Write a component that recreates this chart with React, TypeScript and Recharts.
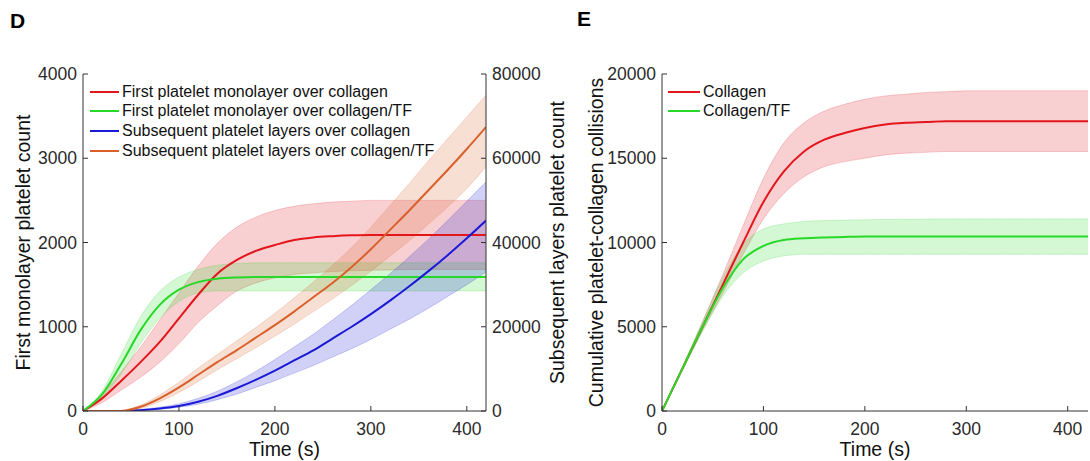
import { ComposedChart, Line, Area, XAxis, YAxis, Legend, Label } from 'recharts';

const FONT = '"Liberation Sans", Arial, sans-serif';

const time = [0, 20, 40, 60, 80, 100, 120, 140, 160, 180, 200, 220, 240, 260, 280, 300, 320, 340, 360, 380, 400, 420];
const xTicks = [0, 100, 200, 300, 400];

// panel D, left axis
const monoCollagen = [0, 150, 360, 580, 820, 1100, 1380, 1630, 1790, 1900, 1970, 2030, 2060, 2075, 2085, 2090, 2090, 2090, 2090, 2090, 2090, 2090];
const monoCollagenLow = [0, 100, 250, 400, 580, 800, 1050, 1250, 1420, 1520, 1580, 1620, 1640, 1655, 1665, 1670, 1675, 1680, 1680, 1680, 1680, 1680];
const monoCollagenHigh = [0, 200, 470, 760, 1080, 1400, 1720, 1990, 2180, 2300, 2380, 2430, 2460, 2480, 2490, 2500, 2500, 2500, 2500, 2500, 2500, 2500];
const monoTF = [0, 200, 560, 960, 1260, 1440, 1530, 1570, 1585, 1590, 1590, 1590, 1590, 1590, 1590, 1590, 1590, 1590, 1590, 1590, 1590, 1590];
const monoTFLow = [0, 160, 440, 800, 1100, 1300, 1400, 1425, 1425, 1425, 1425, 1425, 1425, 1425, 1425, 1425, 1425, 1425, 1425, 1425, 1425, 1425];
const monoTFHigh = [0, 240, 680, 1120, 1420, 1590, 1680, 1730, 1750, 1760, 1760, 1760, 1760, 1760, 1760, 1760, 1760, 1760, 1760, 1760, 1760, 1760];

// panel D, right axis
const subCollagen = [0, 0, 0, 200, 600, 1200, 2200, 3600, 5400, 7400, 9600, 12000, 14400, 17200, 20000, 23000, 26200, 29600, 33200, 37000, 41000, 45200];
const subCollagenLow = [0, 0, 0, 100, 400, 900, 1600, 2700, 4000, 5600, 7200, 9000, 10800, 12800, 14800, 17000, 19400, 21800, 24400, 27200, 30000, 33000];
const subCollagenHigh = [0, 0, 100, 400, 900, 1700, 3000, 4700, 6900, 9400, 12200, 15200, 18200, 21600, 25100, 28800, 32600, 36600, 40800, 45200, 49800, 54400];
const subTF = [0, 0, 0, 1000, 3000, 5600, 8600, 11600, 14400, 17400, 20400, 23600, 27000, 30400, 34200, 38400, 43000, 47600, 52400, 57200, 62200, 67400];
const subTFLow = [0, 0, 0, 600, 2200, 4400, 7000, 9800, 12400, 15000, 17800, 20600, 23600, 26600, 29800, 33200, 36800, 40400, 44400, 48400, 52800, 58000];
const subTFHigh = [0, 0, 200, 1400, 3800, 6800, 10200, 13400, 16600, 19800, 23200, 26800, 30600, 34600, 38800, 43600, 48800, 54000, 59400, 64600, 69800, 75000];

// panel E
const collCollagen = [0, 2500, 5000, 7500, 10000, 12400, 14200, 15400, 16100, 16500, 16800, 17000, 17100, 17150, 17200, 17200, 17200, 17200, 17200, 17200, 17200, 17200];
const collCollagenLow = [0, 2400, 4800, 7000, 9300, 11400, 12900, 13900, 14500, 14800, 15000, 15200, 15300, 15350, 15400, 15400, 15400, 15400, 15400, 15400, 15400, 15400];
const collCollagenHigh = [0, 2600, 5300, 8100, 11000, 13800, 15900, 17100, 17800, 18200, 18500, 18700, 18800, 18900, 18950, 19000, 19000, 19000, 19000, 19000, 19000, 19000];
const collTF = [0, 2500, 5000, 7300, 9000, 9800, 10150, 10250, 10300, 10330, 10350, 10350, 10350, 10350, 10350, 10350, 10350, 10350, 10350, 10350, 10350, 10350];
const collTFLow = [0, 2400, 4700, 6800, 8200, 8900, 9200, 9300, 9300, 9300, 9300, 9300, 9300, 9300, 9300, 9300, 9300, 9300, 9300, 9300, 9300, 9300];
const collTFHigh = [0, 2600, 5300, 7900, 9900, 10800, 11100, 11250, 11300, 11330, 11350, 11370, 11380, 11390, 11400, 11400, 11400, 11400, 11400, 11400, 11400, 11400];

const RED = '#e3161c';
const GREEN = '#28d828';
const BLUE = '#1a1ad6';
const ORANGE = '#d9602a';

const dataD = time.map((t, i) => ({
  t,
  monoCollagen: monoCollagen[i],
  monoCollagenBand: [monoCollagenLow[i], monoCollagenHigh[i]],
  monoTF: monoTF[i],
  monoTFBand: [monoTFLow[i], monoTFHigh[i]],
  subCollagen: subCollagen[i],
  subCollagenBand: [subCollagenLow[i], subCollagenHigh[i]],
  subTF: subTF[i],
  subTFBand: [subTFLow[i], subTFHigh[i]],
}));

const dataE = time.map((t, i) => ({
  t,
  collagen: collCollagen[i],
  collagenBand: [collCollagenLow[i], collCollagenHigh[i]],
  tf: collTF[i],
  tfBand: [collTFLow[i], collTFHigh[i]],
}));

const tickStyle = { fontSize: 17.5, fill: '#2a2a2a', fontFamily: FONT };
const axisLine = { stroke: '#333', strokeWidth: 1 };
const noTick = () => <g />;

const LegendList = (props: any) => {
  const items = (props.payload || []).filter((p: any) => p.type !== 'none');
  return (
    <div style={{ fontFamily: FONT, fontSize: 16, color: '#111', textAlign: 'left' }}>
      {items.map((p: any) => (
        <div key={p.value} style={{ display: 'flex', alignItems: 'center', height: 19.6, whiteSpace: 'nowrap' }}>
          <span style={{ display: 'inline-block', width: props.lineW, height: 2, background: p.color, marginRight: 3 }} />
          <span>{p.value}</span>
        </div>
      ))}
    </div>
  );
};

const vLabel = (text: string, dx: number) => (p: any) => {
  const vb = p.viewBox;
  const x = vb.x + dx;
  const y = vb.y + vb.height / 2;
  return (
    <text x={x} y={y} transform={`rotate(-90 ${x} ${y})`} textAnchor="middle" dominantBaseline="central"
      style={{ fontSize: 19.5, fill: '#111', fontFamily: FONT }}>{text}</text>
  );
};

const timeLabel = (p: any) => {
  const vb = p.viewBox;
  return (
    <text x={vb.x + vb.width / 2} y={vb.y + 38} textAnchor="middle" dominantBaseline="central"
      style={{ fontSize: 19.5, fill: '#111', fontFamily: FONT }}>Time (s)</text>
  );
};

const band = (key: string, color: string, axis: string, op = 0.2) => (
  <Area key={key} yAxisId={axis} dataKey={key} type="monotone" fill={color} fillOpacity={op}
    stroke={color} strokeOpacity={0.2} strokeWidth={1} legendType="none" isAnimationActive={false} />
);

const PanelD = () => (
  <ComposedChart width={575} height={461} data={dataD} margin={{ top: 74, right: 0, bottom: 0, left: 0 }}>
    <XAxis dataKey="t" type="number" domain={[0, 420]} ticks={xTicks} allowDataOverflow height={50}
      tick={tickStyle} tickSize={-5} tickMargin={17} axisLine={axisLine} tickLine={axisLine}>
      <Label content={timeLabel} />
    </XAxis>
    <XAxis xAxisId="top" orientation="top" dataKey="t" type="number" domain={[0, 420]} ticks={xTicks}
      allowDataOverflow height={0} tick={noTick} tickSize={-5} axisLine={axisLine} tickLine={axisLine} />
    <YAxis yAxisId="left" domain={[0, 4000]} ticks={[0, 1000, 2000, 3000, 4000]} width={83}
      tick={tickStyle} tickSize={-5} tickMargin={11} axisLine={axisLine} tickLine={axisLine}>
      <Label content={vLabel('First monolayer platelet count', 23)} />
    </YAxis>
    <YAxis yAxisId="right" orientation="right" domain={[0, 80000]} ticks={[0, 20000, 40000, 60000, 80000]}
      width={89} allowDataOverflow tick={{ ...tickStyle, textAnchor: 'start' }} tickSize={-5} tickMargin={11}
      axisLine={axisLine} tickLine={axisLine}>
      <Label content={vLabel('Subsequent layers platelet count', 71)} />
    </YAxis>
    {band('monoCollagenBand', RED, 'left')}
    {band('monoTFBand', GREEN, 'left')}
    {band('subCollagenBand', BLUE, 'right')}
    {band('subTFBand', ORANGE, 'right')}
    <Line yAxisId="left" dataKey="monoCollagen" name="First platelet monolayer over collagen" type="monotone"
      stroke={RED} strokeWidth={2} dot={false} isAnimationActive={false} />
    <Line yAxisId="left" dataKey="monoTF" name="First platelet monolayer over collagen/TF" type="monotone"
      stroke={GREEN} strokeWidth={2} dot={false} isAnimationActive={false} />
    <Line yAxisId="right" dataKey="subCollagen" name="Subsequent platelet layers over collagen" type="monotone"
      stroke={BLUE} strokeWidth={2} dot={false} isAnimationActive={false} />
    <Line yAxisId="right" dataKey="subTF" name="Subsequent platelet layers over collagen/TF" type="monotone"
      stroke={ORANGE} strokeWidth={2} dot={false} isAnimationActive={false} />
    <Legend layout="horizontal" verticalAlign="middle" align="center"
      wrapperStyle={{ left: 90, top: 82, width: 'auto', height: 'auto' }}
      content={(p: any) => <LegendList {...p} lineW={29} />} />
  </ComposedChart>
);

const PanelE = () => (
  <ComposedChart width={515} height={461} data={dataE} margin={{ top: 74, right: 2, bottom: 0, left: 0 }}>
    <XAxis dataKey="t" type="number" domain={[0, 420]} ticks={xTicks} allowDataOverflow height={50}
      tick={tickStyle} tickSize={-5} tickMargin={17} axisLine={axisLine} tickLine={axisLine}>
      <Label content={timeLabel} />
    </XAxis>
    <XAxis xAxisId="top" orientation="top" dataKey="t" type="number" domain={[0, 420]} ticks={xTicks}
      allowDataOverflow height={0} tick={noTick} tickSize={-5} axisLine={axisLine} tickLine={axisLine} />
    <YAxis yAxisId="left" domain={[0, 20000]} ticks={[0, 5000, 10000, 15000, 20000]} width={87}
      tick={tickStyle} tickSize={-5} tickMargin={11} axisLine={axisLine} tickLine={axisLine}>
      <Label content={vLabel('Cumulative platelet-collagen collisions', 21)} />
    </YAxis>
    <YAxis yAxisId="r" orientation="right" domain={[0, 20000]} ticks={[0, 5000, 10000, 15000, 20000]} width={0}
      tick={noTick} tickSize={-5} axisLine={axisLine} tickLine={axisLine} />
    {band('collagenBand', RED, 'left')}
    {band('tfBand', GREEN, 'left')}
    <Line yAxisId="left" dataKey="collagen" name="Collagen" type="monotone"
      stroke={RED} strokeWidth={2} dot={false} isAnimationActive={false} />
    <Line yAxisId="left" dataKey="tf" name="Collagen/TF" type="monotone"
      stroke={GREEN} strokeWidth={2} dot={false} isAnimationActive={false} />
    <Legend layout="horizontal" verticalAlign="middle" align="center"
      wrapperStyle={{ left: 93, top: 82, width: 'auto', height: 'auto' }}
      content={(p: any) => <LegendList {...p} lineW={32} />} />
  </ComposedChart>
);

export default function App() {
  return (
    <div style={{ position: 'absolute', left: 0, top: 0, width: 1090, height: 461, background: '#fff', fontFamily: FONT }}>
      <div style={{ position: 'absolute', left: 10, top: 9, fontSize: 21, fontWeight: 'bold' }}>D</div>
      <div style={{ position: 'absolute', left: 577, top: 7, fontSize: 21, fontWeight: 'bold' }}>E</div>
      <div style={{ position: 'absolute', left: 0, top: 0 }}>
        <PanelD />
      </div>
      <div style={{ position: 'absolute', left: 575, top: 0 }}>
        <PanelE />
      </div>
    </div>
  );
}
